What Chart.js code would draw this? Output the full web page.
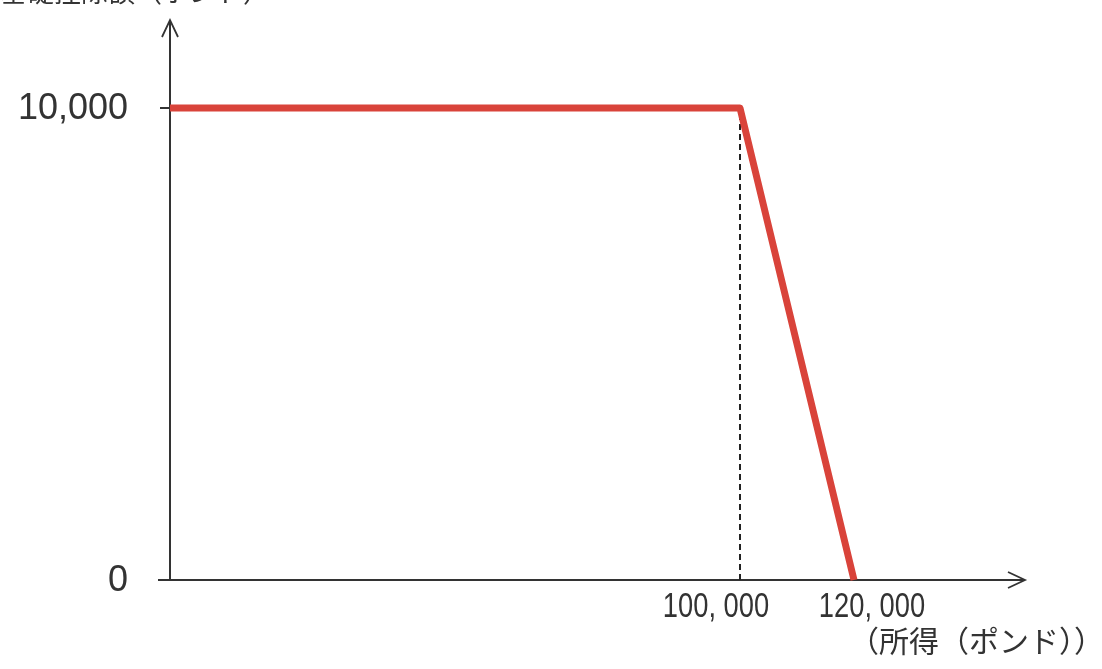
<!DOCTYPE html>
<html><head><meta charset="utf-8">
<script src="https://cdn.jsdelivr.net/npm/chart.js@4"></script>
<style>html,body{margin:0;padding:0;background:#fff;}#wrap{width:1102px;height:669px;}</style>
</head><body><div id="wrap"><canvas id="c" width="1102" height="669"></canvas></div>
<script>
const incomeX = [0, 100000, 120000];
const allowanceY = [10000, 10000, 0];
const dashX = [100000, 100000];
const dashY = [0, 10000];
const yTickValues = [0, 10000];
const yTickLabels = ['0', '10,000'];
const xTickValues = [100000, 120000];
const xTickLabels = ['100, 000', '120, 000'];
const yTitle = '基礎控除額（ポンド）';
const xTitle = '（所得（ポンド））';

const axesPlugin = {
  id: 'axesPlugin',
  beforeDatasetsDraw(chart) {
    const ctx = chart.ctx, xs = chart.scales.x, ys = chart.scales.y;
    const x0 = xs.getPixelForValue(0), y0 = ys.getPixelForValue(0);
    const top = chart.chartArea.top, right = chart.chartArea.right;
    ctx.save();
    ctx.strokeStyle = '#333'; ctx.lineWidth = 2; ctx.lineCap = 'butt';
    ctx.beginPath();
    ctx.moveTo(158, y0); ctx.lineTo(right, y0);
    ctx.moveTo(x0, y0 + 1); ctx.lineTo(x0, top);
    const yt = ys.getPixelForValue(10000);
    ctx.moveTo(160, yt); ctx.lineTo(x0, yt);
    ctx.stroke();
    ctx.lineWidth = 1.8;
    ctx.beginPath();
    ctx.moveTo(x0 - 8, top + 17); ctx.lineTo(x0, top); ctx.lineTo(x0 + 8, top + 17);
    ctx.moveTo(right - 17, y0 - 8); ctx.lineTo(right, y0); ctx.lineTo(right - 17, y0 + 8);
    ctx.stroke();
    ctx.restore();
  },
  afterDraw(chart) {
    const ctx = chart.ctx, xs = chart.scales.x, ys = chart.scales.y;
    ctx.save();
    ctx.fillStyle = '#333';
    ctx.font = '36px "Liberation Sans", Arial, sans-serif';
    ctx.textAlign = 'right'; ctx.textBaseline = 'middle';
    yTickValues.forEach((v, i) => {
      ctx.fillText(yTickLabels[i], 128, ys.getPixelForValue(v) + 1);
    });
    ctx.font = '35px "Liberation Sans", sans-serif';
    ctx.textAlign = 'center'; ctx.textBaseline = 'middle';
    const offs = [-24, 18];
    const sx = 0.78;
    xTickValues.forEach((v, i) => {
      const cx = xs.getPixelForValue(v) + offs[i];
      ctx.save();
      ctx.translate(cx, 607);
      ctx.scale(sx, 1);
      ctx.fillText(xTickLabels[i], 0, 0);
      ctx.restore();
    });
    ctx.font = '30px "Noto Sans CJK JP", sans-serif';
    ctx.textAlign = 'right'; ctx.textBaseline = 'middle';
    ctx.fillText(xTitle, 1104, 641);
    ctx.textAlign = 'left'; ctx.textBaseline = 'alphabetic';
    ctx.font = '27px "Noto Sans CJK JP", sans-serif';
    ctx.fillText(yTitle, 0, 2);
    ctx.restore();
  }
};

new Chart(document.getElementById('c'), {
  type: 'line',
  data: {
    datasets: [
      { data: incomeX.map((x, i) => ({x, y: allowanceY[i]})), borderColor: '#d9433a', borderWidth: 7,
        pointRadius: 0, fill: false, tension: 0, borderJoinStyle: 'round', clip: false, order: 1 },
      { data: dashX.map((x, i) => ({x, y: dashY[i]})), borderColor: '#222', borderWidth: 2,
        borderDash: [6, 4], pointRadius: 0, fill: false, tension: 0, order: 2 }
    ]
  },
  options: {
    responsive: false, animation: false, devicePixelRatio: 1,
    layout: { padding: { left: 170, top: 20, right: 77, bottom: 89 } },
    plugins: { legend: { display: false }, tooltip: { enabled: false } },
    scales: {
      x: { type: 'linear', min: 0, max: 150000, display: false },
      y: { type: 'linear', min: 0, max: 11864, display: false }
    }
  },
  plugins: [axesPlugin]
});
</script></body></html>
